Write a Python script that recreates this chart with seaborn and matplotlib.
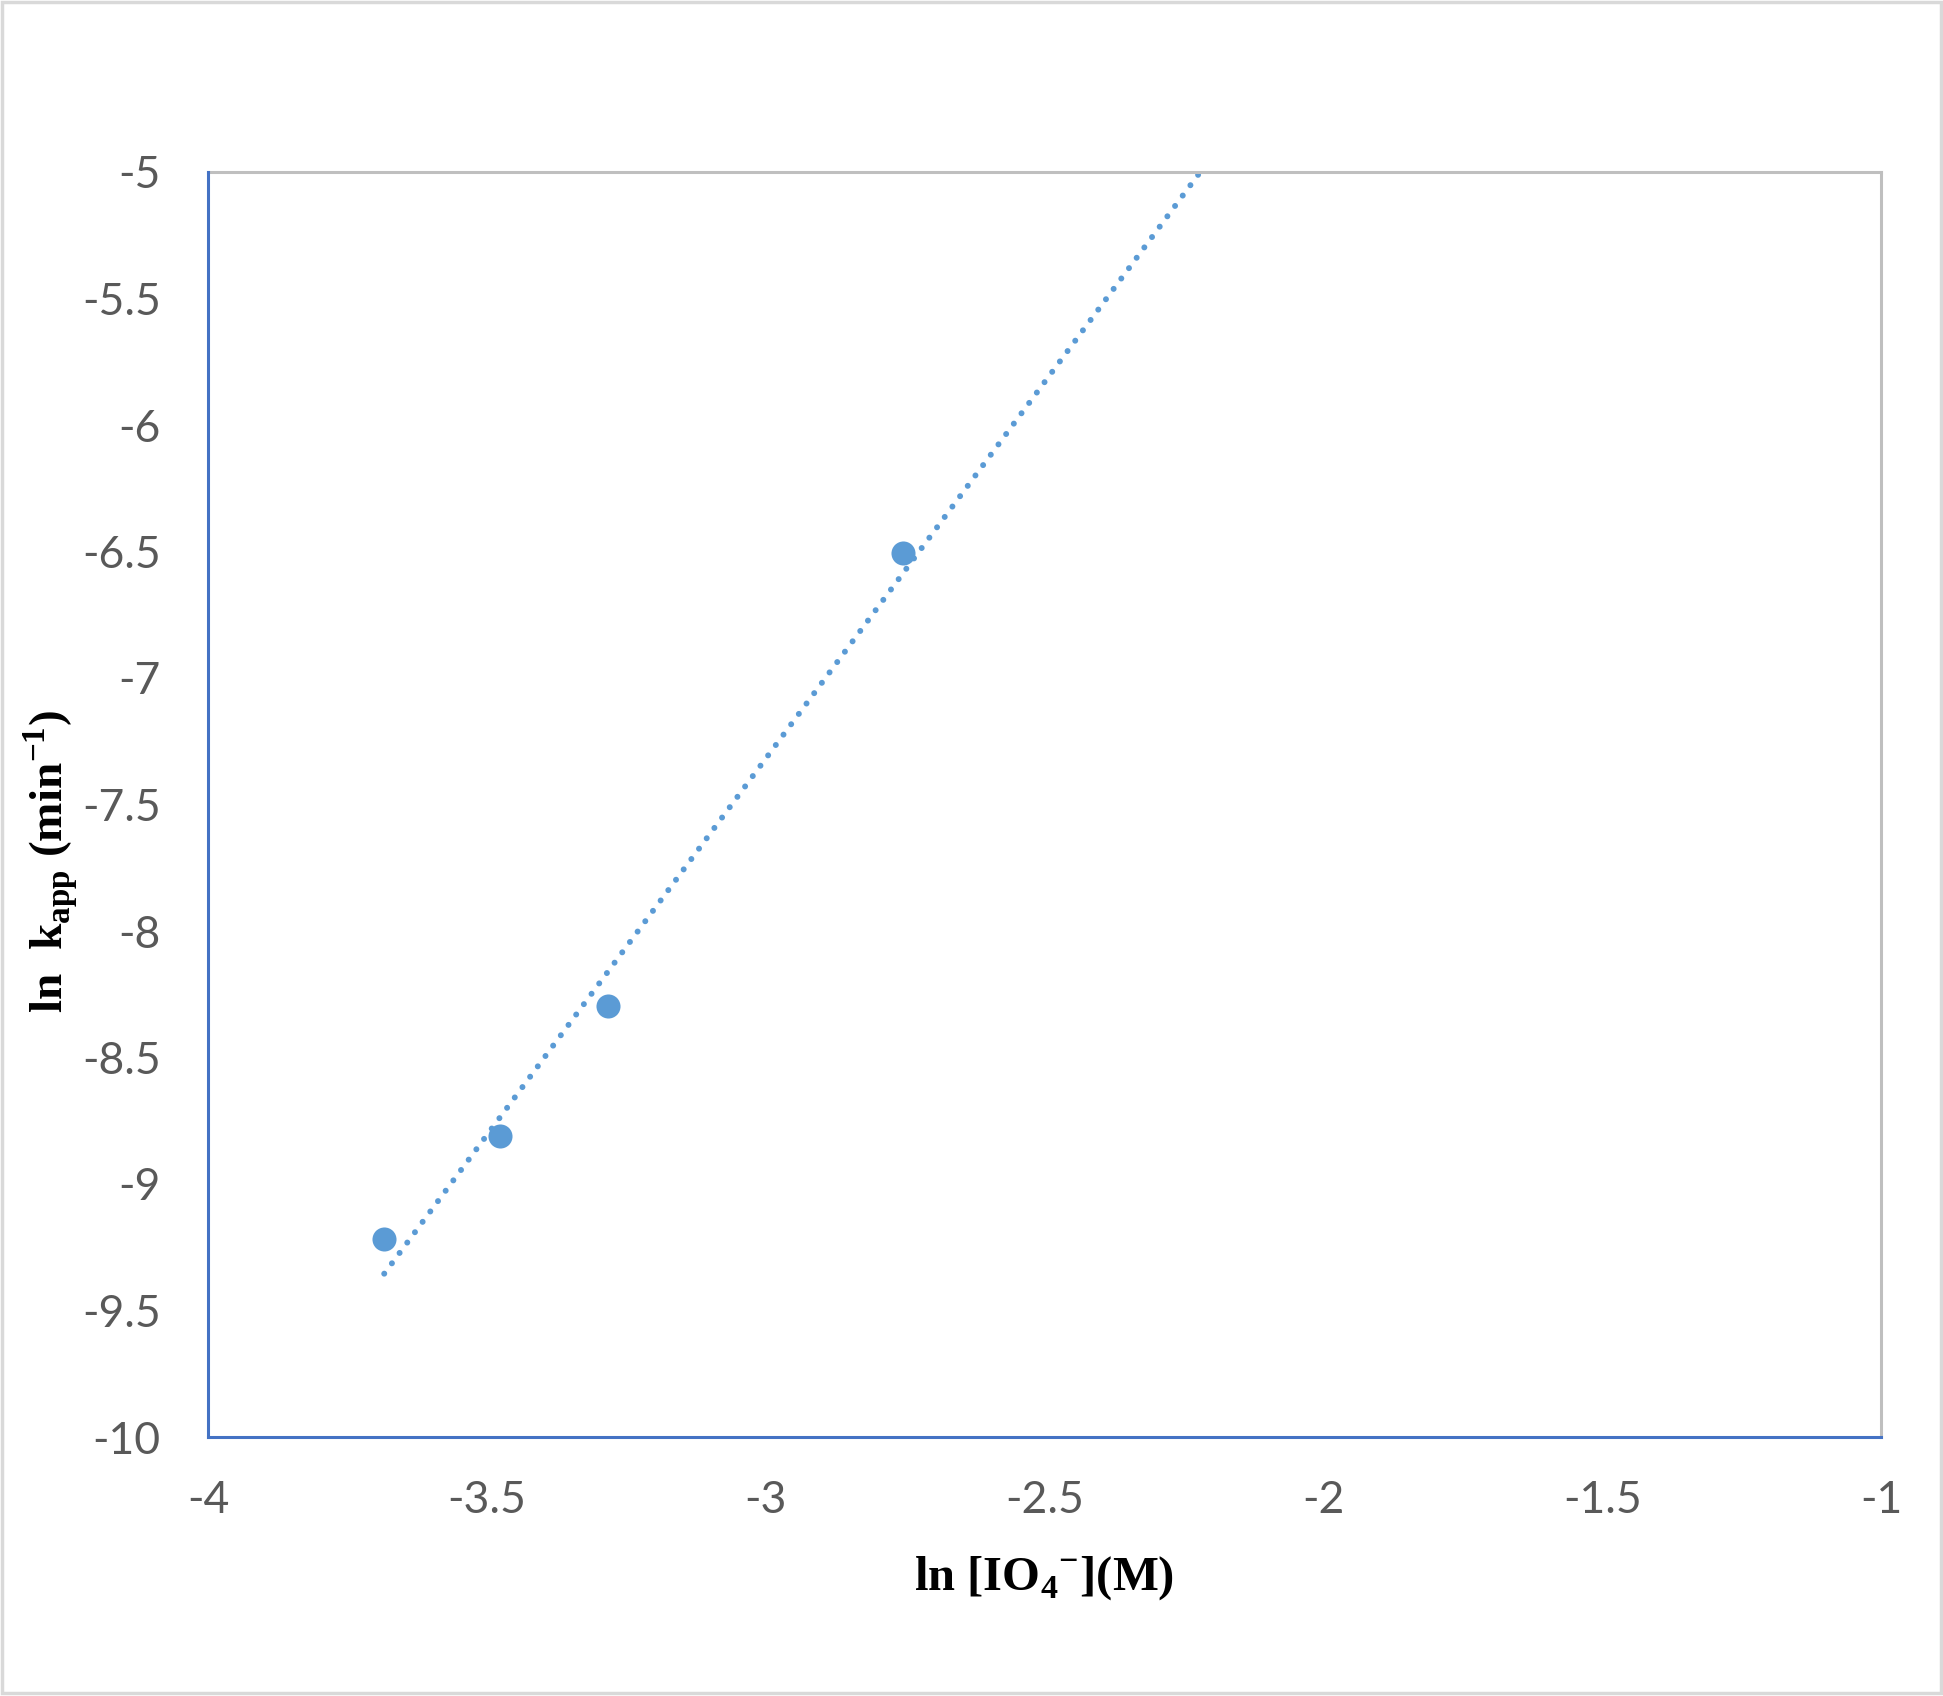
import numpy as np
import pandas as pd
import seaborn as sns
import matplotlib
matplotlib.use("Agg")
from matplotlib import pyplot as plt
from matplotlib.patches import Rectangle

# data
ln_io4 = [-3.684, -3.476, -3.282, -2.753]
ln_kapp = [-9.217, -8.811, -8.297, -6.507]

x_ticks = [-4, -3.5, -3, -2.5, -2, -1.5, -1]
y_ticks = [-5, -5.5, -6, -6.5, -7, -7.5, -8, -8.5, -9, -9.5, -10]

sns.set_theme(style="white")
plt.rcParams["font.family"] = ["Lato", "DejaVu Sans"]
plt.rcParams["mathtext.fontset"] = "custom"
plt.rcParams["mathtext.rm"] = "Liberation Serif:bold"
plt.rcParams["mathtext.bf"] = "Liberation Serif:bold"

df = pd.DataFrame({"x": ln_io4, "y": ln_kapp})
point_color = "#5B9BD5"

fig = plt.figure(figsize=(19.43, 16.96), dpi=100)
ax = fig.add_axes([208 / 1943, 1 - 1437 / 1696, (1881 - 208) / 1943, (1437 - 172) / 1696])

# linear trendline through the points, extended forward until it leaves the plot
slope, intercept = np.polyfit(df["x"], df["y"], 1)
trend_x = np.array([df["x"].min(), -2.0])
ax.plot(trend_x, slope * trend_x + intercept, color=point_color, lw=4.3,
        linestyle=(0, (0.01, 2.15)), dash_capstyle="round", zorder=2)

sns.scatterplot(data=df, x="x", y="y", ax=ax, color=point_color, s=300,
                linewidth=0, zorder=3)

ax.set_xlim(-4, -1)
ax.set_ylim(-10, -5)
ax.set_xticks(x_ticks)
ax.set_yticks(y_ticks)
ax.set_xticklabels([f"{t:g}" for t in x_ticks])
ax.set_yticklabels([f"{t:g}" for t in y_ticks])
ax.tick_params(axis="both", length=0, labelsize=32, labelcolor="#595959")
ax.tick_params(axis="y", pad=34)
ax.tick_params(axis="x", pad=31)

for side in ["left", "bottom"]:
    ax.spines[side].set_color("#4472C4")
    ax.spines[side].set_linewidth(2.2)
for side in ["top", "right"]:
    ax.spines[side].set_color("#BFBFBF")
    ax.spines[side].set_linewidth(2.2)
ax.spines["left"].set_zorder(4)
ax.spines["bottom"].set_zorder(4)

ax.set_xlabel(r"ln [IO$_{4}$$^{\mathrm{-}}$](M)", fontsize=35, fontweight="bold",
              family="Liberation Serif", color="black")
ax.xaxis.set_label_coords(0.5, -0.093)
ax.xaxis.label.set_va("top")

ax.set_ylabel(r"ln  k$_{\mathrm{app}}$ (min$^{\mathrm{-1}}$)", fontsize=34,
              fontweight="bold", family="Liberation Serif", color="black")
ax.yaxis.set_label_coords(-0.0765, 0.455)

# thin grey frame around the whole picture
fig.patches.append(Rectangle((0.001, 0.002), 0.998, 0.997, transform=fig.transFigure,
                             fill=False, edgecolor="#D9D9D9", lw=2.5))

fig.savefig("out.png", dpi=100, facecolor="white")
